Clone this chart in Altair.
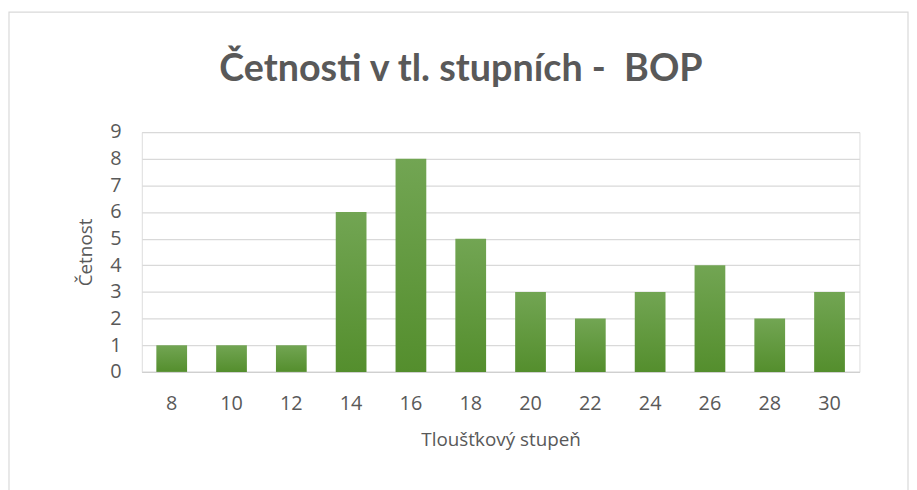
import altair as alt
import pandas as pd

stupne = [8, 10, 12, 14, 16, 18, 20, 22, 24, 26, 28, 30]
cetnosti = [1, 1, 1, 6, 8, 5, 3, 2, 3, 4, 2, 3]
title_text = "Četnosti v tl. stupních -\u00a0 BOP"
x_title = "Tloušťkový stupeň"
y_title = "Četnost"

df = pd.DataFrame({"stupen": [str(s) for s in stupne], "cetnost": cetnosti})
order = [str(s) for s in stupne]

FONT = "Open Sans"
GRAY = "#595959"

grad = alt.Gradient(
    gradient="linear",
    stops=[alt.GradientStop(offset=0, color="#72a553"),
           alt.GradientStop(offset=1, color="#548e2d")],
    x1=0, x2=0, y1=0, y2=1,
)

bars = alt.Chart(df).mark_bar(color=grad).encode(
    x=alt.X("stupen:N", sort=order,
            scale=alt.Scale(paddingInner=0.486, paddingOuter=0.243),
            axis=alt.Axis(title=x_title, labelAngle=0, labelFontSize=20, labelColor=GRAY,
                          labelFont=FONT, labelPadding=22, ticks=False,
                          domainColor="#d0d0d0", domainWidth=1.2,
                          titleFont=FONT, titleFontSize=19, titleColor=GRAY,
                          titleFontWeight="normal", titlePadding=17)),
    y=alt.Y("cetnost:Q", scale=alt.Scale(domain=[0, 9], nice=False),
            axis=alt.Axis(title=y_title, values=list(range(10)), tickCount=10,
                          labelFontSize=20, labelColor=GRAY, labelFont=FONT,
                          labelPadding=21, ticks=False, domain=False,
                          gridColor="#d9d9d9", gridWidth=1.2,
                          titleFont=FONT, titleFontSize=19, titleColor=GRAY,
                          titleFontWeight="normal", titlePadding=14)),
)

frame_df = pd.DataFrame({"k": [0]})
frame = alt.Chart(frame_df).mark_rect(fill=None, stroke="#d9d9d9", strokeWidth=1.2).encode(
    x=alt.value(-134), x2=alt.value(773), y=alt.value(-121), y2=alt.value(480)
)

title_df = pd.DataFrame({"t": [title_text]})
title = alt.Chart(title_df).mark_text(
    font="Lato", fontSize=38, fontWeight="bold", color=GRAY,
    align="center", baseline="alphabetic"
).encode(text="t:N", x=alt.value(322), y=alt.value(-51))

chart = alt.layer(frame, bars, title).properties(
    width=724, height=242,
    autosize=alt.AutoSizeParams(type="none"),
    padding={"left": 135, "top": 123, "right": 50, "bottom": 117},
).configure_view(stroke=None).configure(background="white")

chart.save("out.html", embed_options={"renderer": "svg", "actions": False})
